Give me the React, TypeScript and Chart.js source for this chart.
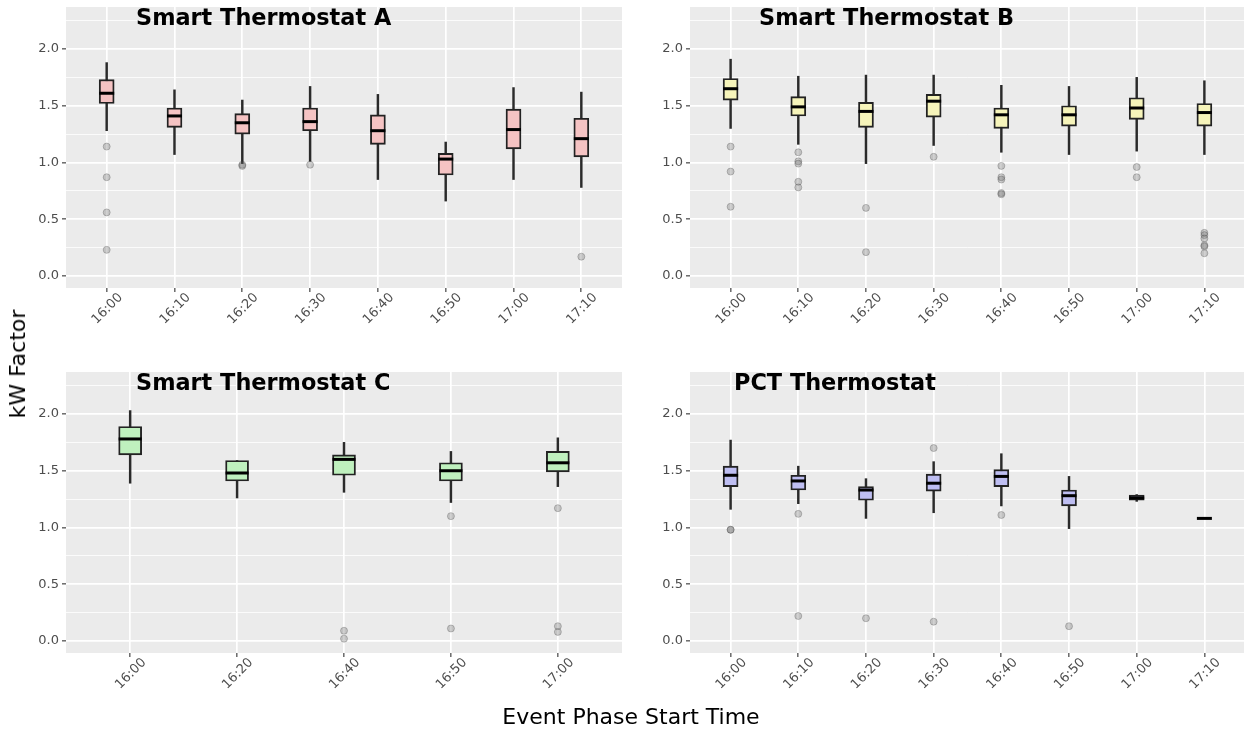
import React, { useEffect, useRef } from 'react';
import { Chart, registerables } from 'chart.js';

Chart.register(...registerables);

// ---------- data ----------
const yTickValues = [0, 0.25, 0.5, 0.75, 1.0, 1.25, 1.5, 1.75, 2.0, 2.25];
const yMajorValues = [0, 0.5, 1.0, 1.5, 2.0];

// Smart Thermostat A
const catsA = ['16:00', '16:10', '16:20', '16:30', '16:40', '16:50', '17:00', '17:10'];
const lowA = [1.28, 1.07, 0.99, 1.01, 0.85, 0.66, 0.85, 0.78];
const q1A = [1.52, 1.31, 1.25, 1.28, 1.16, 0.89, 1.12, 1.05];
const medA = [1.61, 1.41, 1.35, 1.36, 1.28, 1.03, 1.29, 1.21];
const q3A = [1.73, 1.48, 1.43, 1.48, 1.42, 1.08, 1.47, 1.39];
const highA = [1.88, 1.64, 1.55, 1.67, 1.60, 1.18, 1.66, 1.62];
const outA = [[1.14, 0.87, 0.56, 0.23], [], [0.98, 0.97], [0.98], [], [], [], [0.17]];

// Smart Thermostat B
const catsB = ['16:00', '16:10', '16:20', '16:30', '16:40', '16:50', '17:00', '17:10'];
const lowB = [1.30, 1.16, 0.99, 1.15, 1.09, 1.07, 1.10, 1.07];
const q1B = [1.55, 1.41, 1.31, 1.40, 1.30, 1.32, 1.38, 1.32];
const medB = [1.65, 1.49, 1.45, 1.54, 1.42, 1.42, 1.48, 1.44];
const q3B = [1.74, 1.58, 1.53, 1.60, 1.48, 1.50, 1.57, 1.52];
const highB = [1.91, 1.76, 1.77, 1.77, 1.68, 1.67, 1.75, 1.72];
const outB = [
  [1.14, 0.92, 0.61],
  [1.09, 1.01, 0.99, 0.83, 0.78],
  [0.60, 0.21],
  [1.05],
  [0.97, 0.87, 0.85, 0.73, 0.72],
  [],
  [0.96, 0.87],
  [0.38, 0.36, 0.33, 0.27, 0.26, 0.20],
];

// Smart Thermostat C
const catsC = ['16:00', '16:20', '16:40', '16:50', '17:00'];
const lowC = [1.39, 1.26, 1.31, 1.22, 1.36];
const q1C = [1.64, 1.41, 1.46, 1.41, 1.49];
const medC = [1.78, 1.48, 1.60, 1.50, 1.57];
const q3C = [1.89, 1.59, 1.64, 1.57, 1.67];
const highC = [2.03, 1.59, 1.75, 1.67, 1.79];
const outC = [[], [], [0.09, 0.02], [1.10, 0.11], [1.17, 0.13, 0.08]];

// PCT Thermostat
const catsD = ['16:00', '16:10', '16:20', '16:30', '16:40', '16:50', '17:00', '17:10'];
const lowD = [1.16, 1.21, 1.08, 1.13, 1.19, 0.99, 1.23, 1.08];
const q1D = [1.36, 1.33, 1.24, 1.32, 1.36, 1.19, 1.24, 1.08];
const medD = [1.46, 1.41, 1.33, 1.39, 1.45, 1.28, 1.26, 1.08];
const q3D = [1.54, 1.46, 1.36, 1.47, 1.51, 1.33, 1.285, 1.08];
const highD = [1.77, 1.54, 1.43, 1.58, 1.65, 1.45, 1.29, 1.08];
const outD = [[0.98, 0.98], [1.12, 0.22], [0.20], [1.70, 0.17], [1.11], [0.13], [], []];

// ---------- chart ----------
const FONT = "'DejaVu Sans', sans-serif";
const isMajor = (v: number) => yMajorValues.some((m) => Math.abs(m - v) < 1e-6);

const panelBg = {
  id: 'panelBg',
  beforeDraw(chart: any) {
    const { ctx, chartArea: a } = chart;
    ctx.save();
    ctx.fillStyle = '#EBEBEB';
    ctx.fillRect(a.left, a.top, a.right - a.left, a.bottom - a.top);
    ctx.restore();
  },
};

type PanelProps = {
  cats: string[];
  low: number[];
  q1: number[];
  med: number[];
  q3: number[];
  high: number[];
  out: number[][];
  fill: string;
  boxW: number;
  left: number;
  top: number;
  width: number;
  height: number;
  yAxisW: number;
  padRight: number;
  xAxisH: number;
};

function Panel(p: PanelProps) {
  const ref = useRef<HTMLCanvasElement | null>(null);
  useEffect(() => {
    const idx = p.cats.map((_, i) => i);
    const outliers: { x: number; y: number }[] = [];
    p.out.forEach((arr, i) => arr.forEach((v) => outliers.push({ x: i, y: v })));
    const chart = new Chart(ref.current as HTMLCanvasElement, {
      type: 'bar',
      data: {
        datasets: [
          {
            type: 'scatter',
            data: idx.map((i) => ({ x: i, y: p.med[i] })),
            pointStyle: 'line',
            pointRadius: p.boxW / 2,
            pointHoverRadius: p.boxW / 2,
            pointBorderColor: '#000',
            pointBorderWidth: 3,
            pointHoverBorderWidth: 3,
            pointBackgroundColor: '#000',
          } as any,
          {
            type: 'scatter',
            data: outliers,
            pointStyle: 'circle',
            pointRadius: 3.5,
            pointHoverRadius: 3.5,
            pointBackgroundColor: 'rgba(90,90,90,0.28)',
            pointBorderColor: 'rgba(70,70,70,0.3)',
            pointBorderWidth: 1,
          } as any,
          {
            type: 'bar',
            data: idx.map((i) => ({ x: i, y: [p.q1[i], p.q3[i]] })),
            backgroundColor: p.fill,
            borderColor: '#222222',
            borderWidth: 1.9,
            borderSkipped: false,
            barThickness: p.boxW,
            grouped: false,
          } as any,
          {
            type: 'bar',
            data: idx.map((i) => ({ x: i, y: [p.low[i], p.high[i]] })),
            backgroundColor: '#2A2A2A',
            borderWidth: 0,
            barThickness: 1.8,
            grouped: false,
          } as any,
        ],
      },
      options: {
        responsive: false,
        animation: false,
        events: [],
        layout: { autoPadding: false, padding: { top: 7, right: p.padRight, left: 0, bottom: 0 } },
        plugins: { legend: { display: false }, tooltip: { enabled: false }, title: { display: false } },
        scales: {
          x: {
            type: 'linear',
            min: -0.6,
            max: p.cats.length - 1 + 0.6,
            offset: false,
            afterBuildTicks: (s: any) => {
              s.ticks = idx.map((v) => ({ value: v }));
            },
            afterFit: (s: any) => {
              s.height = p.xAxisH;
            },
            grid: {
              offset: false,
              color: '#FFFFFF',
              lineWidth: 1.7,
              drawTicks: true,
              tickLength: 4,
              tickColor: '#333333',
              tickWidth: 1.1,
            },
            border: { display: false },
            ticks: {
              autoSkip: false,
              maxRotation: 45,
              minRotation: 45,
              labelOffset: 14,
              padding: -2,
              color: '#4D4D4D',
              font: { family: FONT, size: 13 },
              callback: (v: any) => p.cats[Math.round(Number(v))] ?? '',
            },
          },
          y: {
            type: 'linear',
            min: -0.106,
            max: 2.37,
            afterBuildTicks: (s: any) => {
              s.ticks = yTickValues.map((v) => ({ value: v }));
            },
            afterFit: (s: any) => {
              s.width = p.yAxisW;
            },
            grid: {
              color: '#FFFFFF',
              lineWidth: (c: any) => (c.tick && isMajor(c.tick.value) ? 1.7 : 0.8),
              drawTicks: true,
              tickLength: 4,
              tickColor: (c: any) => (c.tick && isMajor(c.tick.value) ? '#333333' : 'rgba(0,0,0,0)'),
              tickWidth: 1.1,
            },
            border: { display: false },
            ticks: {
              padding: 3,
              color: '#4D4D4D',
              font: (c: any) => ({
                family: FONT,
                size: c.tick && isMajor(c.tick.value) ? 13 : 1,
                lineHeight: 1.2,
              }),
              callback: (v: any) => (isMajor(Number(v)) ? Number(v).toFixed(1) : ''),
            },
          },
        },
      } as any,
      plugins: [panelBg],
    });
    return () => chart.destroy();
  }, []);
  return (
    <canvas
      ref={ref}
      width={p.width}
      height={p.height}
      style={{ position: 'absolute', left: p.left, top: p.top, width: p.width, height: p.height, display: 'block' }}
    />
  );
}

const titleStyle: React.CSSProperties = {
  position: 'absolute',
  fontFamily: FONT,
  fontWeight: 'bold',
  fontSize: '22.4px',
  lineHeight: '22.4px',
  color: '#000',
  whiteSpace: 'nowrap',
};

export default function App() {
  return (
    <div
      style={{
        position: 'absolute',
        left: 0,
        top: 0,
        width: 1244,
        height: 731,
        overflow: 'hidden',
        background: '#FFFFFF',
      }}
    >
      <Panel cats={catsA} low={lowA} q1={q1A} med={medA} q3={q3A} high={highA} out={outA}
        fill="#F5C3C3" boxW={15} left={0} top={0} width={632} height={365} yAxisW={66} padRight={10} xAxisH={77} />
      <Panel cats={catsB} low={lowB} q1={q1B} med={medB} q3={q3B} high={highB} out={outB}
        fill="#F6F4BA" boxW={15} left={632} top={0} width={613} height={365} yAxisW={58} padRight={0} xAxisH={77} />
      <Panel cats={catsC} low={lowC} q1={q1C} med={medC} q3={q3C} high={highC} out={outC}
        fill="#BFF0BE" boxW={23} left={0} top={365} width={632} height={366} yAxisW={66} padRight={10} xAxisH={78} />
      <Panel cats={catsD} low={lowD} q1={q1D} med={medD} q3={q3D} high={highD} out={outD}
        fill="#BEBEF2" boxW={15} left={632} top={365} width={613} height={366} yAxisW={58} padRight={0} xAxisH={78} />

      <div style={{ ...titleStyle, left: 136, top: 5.5 }}>Smart Thermostat A</div>
      <div style={{ ...titleStyle, left: 759, top: 5.5 }}>Smart Thermostat B</div>
      <div style={{ ...titleStyle, left: 136, top: 370.5 }}>Smart Thermostat C</div>
      <div style={{ ...titleStyle, left: 734, top: 370.5 }}>PCT Thermostat</div>

      <div
        style={{
          position: 'absolute',
          left: 18,
          top: 364,
          transform: 'translate(-50%, -50%) rotate(-90deg)',
          fontFamily: FONT,
          fontSize: '22px',
          lineHeight: '22px',
          color: '#000',
          whiteSpace: 'nowrap',
        }}
      >
        kW Factor
      </div>
      <div
        style={{
          position: 'absolute',
          left: 631,
          top: 717,
          transform: 'translate(-50%, -50%)',
          fontFamily: FONT,
          fontSize: '22px',
          lineHeight: '22px',
          color: '#000',
          whiteSpace: 'nowrap',
        }}
      >
        Event Phase Start Time
      </div>
    </div>
  );
}
